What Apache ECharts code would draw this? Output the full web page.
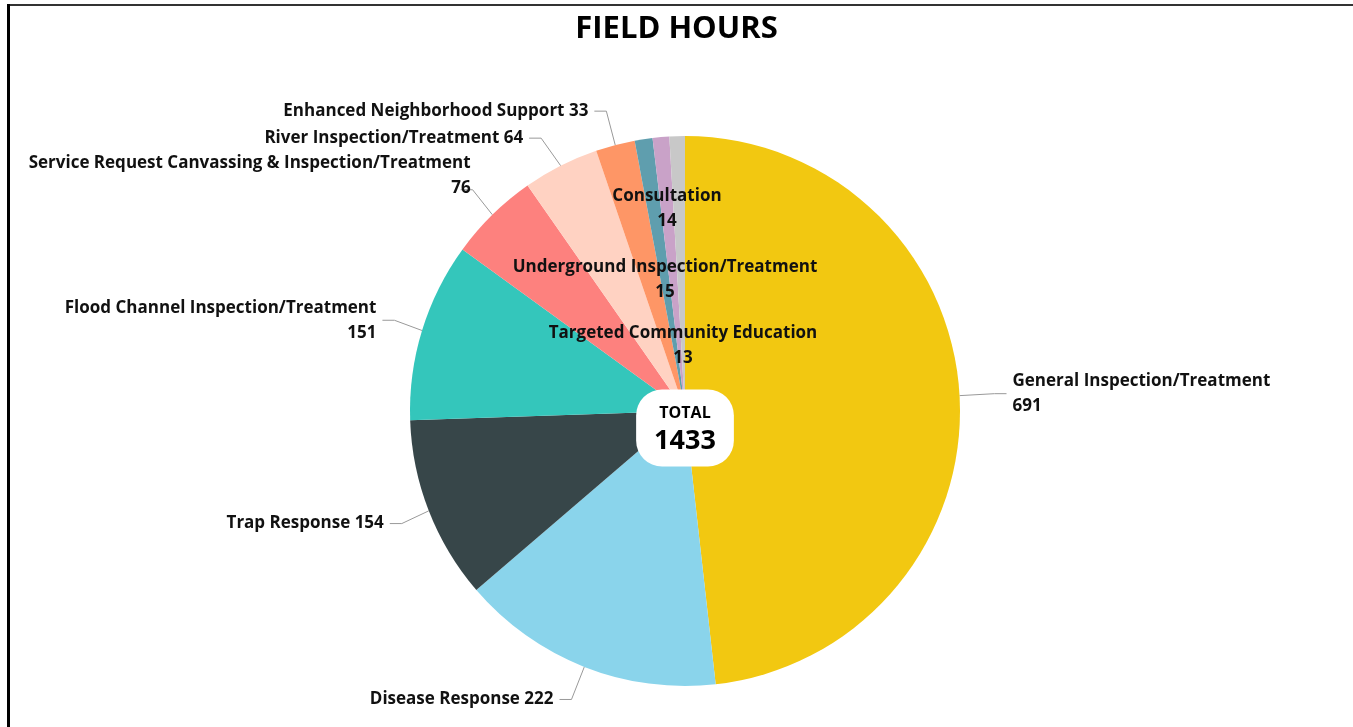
<!DOCTYPE html>
<html>
<head>
<meta charset="utf-8">
<title>Field Hours</title>
<script src="https://cdn.jsdelivr.net/npm/echarts@6/dist/echarts.min.js"></script>
<style>
  html, body { margin: 0; padding: 0; background: #fff; }
  #chart { width: 1353px; height: 727px; }
</style>
</head>
<body>
<div id="chart"></div>
<script>
// field hours by activity, in clockwise order from the top
const categories = [
  'General Inspection/Treatment',
  'Disease Response',
  'Trap Response',
  'Flood Channel Inspection/Treatment',
  'Service Request Canvassing & Inspection/Treatment',
  'River Inspection/Treatment',
  'Enhanced Neighborhood Support',
  'Underground Inspection/Treatment',
  'Consultation',
  'Targeted Community Education'
];
const hours = [691, 222, 154, 151, 76, 64, 33, 15, 14, 13];
const colors = ['#F2C811', '#8AD4EB', '#374649', '#34C6BB', '#FD817E',
  '#FFD2C2', '#FE9666', '#5F9EAE', '#C9A2C8', '#C8C8C8'];
// labels that break onto a second line before the value
const wrapped = [0, 3, 4];
// tiny slices get their labels stacked inside the pie
const insideSlots = { 8: 0, 7: 1, 9: 2 };

const total = hours.reduce((a, b) => a + b, 0);
const font = '"Open Sans", "Noto Sans", sans-serif';

const chart = echarts.init(document.getElementById('chart'));

const data = categories.map(function (name, i) {
  const item = { name: name, value: hours[i], itemStyle: { color: colors[i] } };
  if (insideSlots[i] !== undefined) {
    item.label = { position: 'inside', align: 'center' };
    item.labelLine = { show: false };
  }
  return item;
});

const option = {
  animation: false,
  title: {
    text: 'FIELD HOURS',
    left: 'center',
    top: 9,
    textStyle: { fontFamily: font, fontSize: 31, fontWeight: 'bold', color: '#000' }
  },
  series: [{
    type: 'pie',
    center: [685, 411],
    radius: [0, 275],
    startAngle: 90,
    clockwise: true,
    data: data,
    label: {
      show: true,
      fontFamily: font,
      fontSize: 17,
      fontWeight: 'bold',
      color: '#111',
      lineHeight: 25,
      distanceToLabelLine: 6,
      formatter: function (p) {
        if (insideSlots[p.dataIndex] !== undefined || wrapped.indexOf(p.dataIndex) >= 0) {
          return p.name + '\n' + p.value;
        }
        return p.name + ' ' + p.value;
      }
    },
    labelLine: {
      show: true,
      length: 35,
      length2: 12,
      smooth: false,
      lineStyle: { color: '#999', width: 1 }
    },
    labelLayout: function (params) {
      // nudge the service request label up a little, like the original
      if (params.dataIndex === 4) return { dx: 16, dy: -14 };
      const slot = insideSlots[params.dataIndex];
      if (slot === undefined) return {};
      const xs = [667, 665, 683];
      const ys = [209, 280, 346];
      return { x: xs[slot], y: ys[slot], align: 'center', verticalAlign: 'middle' };
    },
    emphasis: { disabled: true }
  }],
  graphic: [
    // frame lines at top and left
    { type: 'rect', shape: { x: 7, y: 4, width: 1346, height: 2 }, style: { fill: '#333' } },
    { type: 'rect', shape: { x: 7, y: 4, width: 3, height: 723 }, style: { fill: '#000' } },
    {
      type: 'text',
      z: 100,
      x: 685,
      y: 428,
      style: {
        text: '{a|TOTAL}\n{b|' + total + '}',
        align: 'center',
        verticalAlign: 'middle',
        backgroundColor: '#fff',
        borderRadius: 26,
        padding: [12, 18, 9, 18],
        rich: {
          a: { fontFamily: font, fontSize: 16, fontWeight: 'bold', color: '#000', lineHeight: 24, align: 'center' },
          b: { fontFamily: font, fontSize: 27, fontWeight: 'bold', color: '#000', lineHeight: 32, align: 'center' }
        }
      }
    }
  ]
};

chart.setOption(option);
</script>
</body>
</html>
